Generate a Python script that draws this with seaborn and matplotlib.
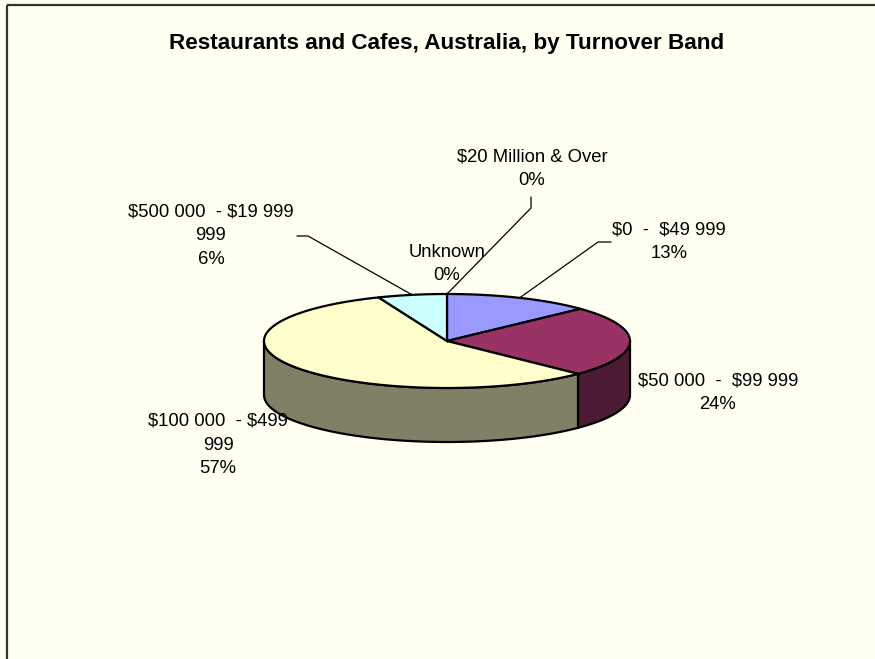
import numpy as np
import matplotlib
matplotlib.use("Agg")
import matplotlib.pyplot as plt
from matplotlib.patches import Polygon, Rectangle
import seaborn as sns

# Share of businesses by turnover band (per cent), clockwise from 12 o'clock
categories = [
    "$0  -  $49 999",
    "$50 000  -  $99 999",
    "$100 000  - $499 999",
    "$500 000  - $19 999 999",
    "$20 Million & Over",
    "Unknown",
]
shares = [13.0, 24.3, 56.6, 6.1, 0.0, 0.0]

title = "Restaurants and Cafes, Australia, by Turnover Band"

# Face colours (top) and their shaded wall colours
top_colors = sns.color_palette(["#9999FF", "#993366", "#FFFFCC", "#CCFFFF", "#660066", "#FF8080"])
wall_colors = sns.color_palette(["#4D4D80", "#4D1A33", "#808066", "#668080", "#330033", "#804040"])

sns.set_theme(style="white")
plt.rcParams["font.family"] = ["Liberation Sans", "DejaVu Sans"]

BG = "#FFFFF2"
fig = plt.figure(figsize=(8.75, 6.59), dpi=100, facecolor=BG)
ax = fig.add_axes([0, 0, 1, 1])
ax.set_xlim(0, 875)
ax.set_ylim(659, 0)
ax.set_facecolor(BG)
ax.axis("off")

# chart frame
ax.add_patch(Rectangle((7, 5), 900, 700, fill=False, edgecolor="#333333", lw=1.6, zorder=1))

ax.text(447, 43, title, ha="center", va="center", fontsize=16.2, fontweight="bold",
        color="black", parse_math=False)

# 3-D pie geometry (screen units)
cx, cy, ra, rb, depth = 447, 341, 183, 47, 54


def rim(theta_deg, drop=0.0):
    t = np.radians(theta_deg)
    return cx + ra * np.sin(t), cy - rb * np.cos(t) + drop


fractions = np.array(shares) / sum(shares)
edges = np.concatenate([[0], np.cumsum(fractions) * 360])

# walls: only the front half (90..270 degrees clockwise from top) is visible
for i in range(len(shares)):
    lo, hi = max(edges[i], 90), min(edges[i + 1], 270)
    if hi - lo <= 0:
        continue
    th = np.linspace(lo, hi, 80)
    xs, ys = rim(th)
    xb, yb = rim(th[::-1], depth)
    pts = np.column_stack([np.concatenate([xs, xb]), np.concatenate([ys, yb])])
    ax.add_patch(Polygon(pts, closed=True, facecolor=wall_colors[i], edgecolor="black", lw=1.6, zorder=2))

# top faces
for i in range(len(shares)):
    if edges[i + 1] - edges[i] <= 0:
        continue
    th = np.linspace(edges[i], edges[i + 1], 120)
    xs, ys = rim(th)
    pts = np.column_stack([np.concatenate([[cx], xs]), np.concatenate([[cy], ys])])
    ax.add_patch(Polygon(pts, closed=True, facecolor=top_colors[i], edgecolor="black", lw=1.6,
                         joinstyle="miter", zorder=3))

# label layout: text centre, wrap the name onto two lines, leader elbow (or None)
layout = [
    dict(xy=(669, 242), wrap=False, elbow=((611, 242), (598, 242))),
    dict(xy=(718, 393), wrap=False, elbow=None),
    dict(xy=(218, 445), wrap=True, elbow=None),
    dict(xy=(211, 236), wrap=True, elbow=((297, 236), (308, 236))),
    dict(xy=(532, 169), wrap=False, elbow=((531, 197), (531, 208))),
    dict(xy=(447, 264), wrap=False, elbow=None),
]

for i, (name, val) in enumerate(zip(categories, shares)):
    lay = layout[i]
    label = name.rsplit(" ", 1) if lay["wrap"] else [name]
    text = "\n".join(label + [f"{val:.0f}%"])
    ax.text(*lay["xy"], text, ha="center", va="center", fontsize=13.3, linespacing=1.52,
            color="black", zorder=5, parse_math=False)
    if lay["elbow"] is not None:
        mid = (edges[i] + edges[i + 1]) / 2
        ex, ey = rim(mid)
        (x0, y0), (x1, y1) = lay["elbow"]
        ax.plot([x0, x1, ex], [y0, y1, ey], color="black", lw=0.9, zorder=4)

fig.savefig("out.png", dpi=100, facecolor=BG)
